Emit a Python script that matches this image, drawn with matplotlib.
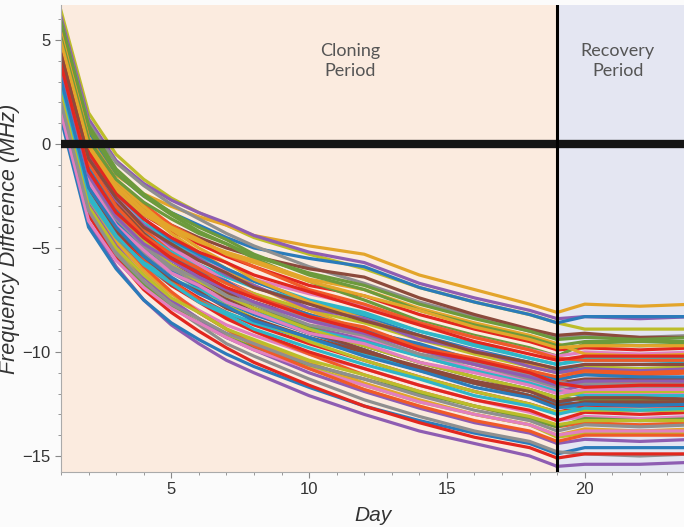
import matplotlib
matplotlib.use("Agg")
import matplotlib.pyplot as plt
from matplotlib.ticker import MultipleLocator

# days sampled for each trace
clone_days = [1, 2, 3, 4, 5, 6, 7, 8, 10, 12, 14, 16, 18, 19]
recovery_days = [19, 20, 22, 24]

# frequency difference (MHz), cloning part
batch_1_clone = [
    [6.4, 1.5, -0.5, -1.7, -2.6, -3.3, -3.9, -4.5, -5.3, -6.0, -6.9, -7.6, -8.2, -8.6],
    [5.3, 0.3, -1.5, -2.4, -3.0, -3.5, -3.9, -4.4, -4.9, -5.3, -6.3, -7.0, -7.7, -8.1],
    [6.1, 1.2, -0.8, -1.9, -2.7, -3.3, -3.8, -4.4, -5.2, -5.7, -6.7, -7.4, -8.0, -8.4],
    [5.6, 0.6, -1.4, -2.5, -3.3, -3.9, -4.5, -5.0, -5.5, -5.9, -6.9, -7.6, -8.2, -8.6],
    [5.9, 1.0, -0.9, -2.0, -2.9, -3.6, -4.3, -4.9, -5.9, -6.7, -7.6, -8.3, -9.0, -9.3],
    [5.0, 0.0, -1.9, -3.1, -3.9, -4.5, -5.0, -5.4, -6.0, -6.4, -7.4, -8.2, -8.9, -9.2],
    [4.8, -0.2, -2.2, -3.4, -4.2, -4.8, -5.4, -5.9, -6.8, -7.3, -8.2, -8.9, -9.5, -9.9],
    [5.6, 0.7, -1.4, -2.5, -3.4, -4.2, -4.8, -5.5, -6.6, -7.5, -8.5, -9.2, -9.8, -10.2],
    [4.5, -0.5, -2.5, -3.8, -4.7, -5.4, -6.0, -6.6, -7.5, -8.1, -9.0, -9.6, -10.3, -10.6],
    [4.0, -1.1, -3.0, -4.2, -5.1, -5.6, -6.1, -6.5, -7.2, -7.8, -8.6, -9.3, -9.9, -10.2],
    [4.2, -0.8, -2.8, -4.1, -5.1, -5.9, -6.6, -7.2, -8.2, -8.9, -9.7, -10.4, -11.0, -11.4],
    [3.7, -1.4, -3.4, -4.6, -5.5, -6.1, -6.7, -7.2, -8.0, -8.6, -9.4, -10.1, -10.7, -11.0],
    [5.0, 0.0, -2.0, -3.2, -4.3, -5.2, -6.0, -6.8, -8.0, -9.0, -9.9, -10.6, -11.3, -11.7],
    [3.4, -1.7, -3.7, -5.0, -6.0, -6.7, -7.3, -7.9, -8.8, -9.4, -10.2, -10.9, -11.5, -11.9],
    [4.8, -0.2, -2.3, -3.6, -4.6, -5.3, -6.0, -6.6, -7.6, -8.3, -9.2, -9.9, -10.5, -10.9],
]
batch_2_clone = [
    [3.2, -2.0, -4.0, -5.3, -6.2, -6.9, -7.5, -8.1, -9.0, -9.7, -10.5, -11.2, -11.8, -12.2],
    [3.7, -1.4, -3.4, -4.8, -5.8, -6.6, -7.4, -8.1, -9.1, -9.9, -10.8, -11.5, -12.1, -12.5],
    [2.9, -2.3, -4.3, -5.6, -6.6, -7.4, -8.1, -8.7, -9.6, -10.4, -11.2, -11.9, -12.5, -12.9],
    [4.2, -0.8, -2.9, -4.3, -5.3, -6.2, -7.0, -7.7, -8.8, -9.7, -10.5, -11.2, -11.8, -12.2],
    [2.6, -2.6, -4.6, -5.8, -6.8, -7.5, -8.1, -8.6, -9.4, -10.1, -10.9, -11.5, -12.1, -12.6],
    [2.4, -2.9, -4.9, -6.2, -7.2, -8.0, -8.7, -9.2, -10.1, -10.8, -11.6, -12.3, -12.9, -13.3],
    [3.2, -2.0, -4.1, -5.5, -6.6, -7.5, -8.3, -9.0, -10.1, -11.1, -11.9, -12.6, -13.2, -13.6],
    [2.1, -3.1, -5.1, -6.6, -7.6, -8.4, -9.2, -9.8, -10.7, -11.6, -12.4, -13.0, -13.5, -14.1],
    [2.6, -2.6, -4.7, -6.1, -7.2, -8.1, -8.9, -9.5, -10.5, -11.5, -12.3, -13.0, -13.5, -14.0],
    [1.5, -3.8, -5.9, -7.5, -8.7, -9.6, -10.4, -11.0, -12.1, -13.0, -13.8, -14.4, -15.0, -15.5],
    [1.2, -4.0, -6.0, -7.5, -8.6, -9.4, -10.1, -10.7, -11.7, -12.6, -13.3, -13.9, -14.4, -14.9],
    [2.1, -3.1, -5.2, -6.7, -7.8, -8.7, -9.6, -10.2, -11.3, -12.3, -13.1, -13.8, -14.3, -14.8],
    [3.4, -1.7, -3.6, -4.9, -5.8, -6.5, -7.1, -7.6, -8.4, -9.0, -9.8, -10.5, -11.1, -11.5],
    [2.9, -2.3, -4.3, -5.7, -6.8, -7.6, -8.4, -9.0, -10.0, -10.8, -11.6, -12.3, -12.8, -13.3],
    [1.8, -3.4, -5.4, -6.8, -7.8, -8.6, -9.3, -9.8, -10.6, -11.3, -12.0, -12.6, -13.2, -13.6],
    [4.0, -1.1, -3.1, -4.3, -5.2, -5.8, -6.4, -6.9, -7.6, -8.2, -9.0, -9.7, -10.3, -10.6],
]
batch_3_clone = [
    [4.5, -0.5, -2.6, -3.9, -5.0, -5.8, -6.6, -7.3, -8.5, -9.3, -10.1, -10.8, -11.4, -11.8],
    [5.3, 0.3, -1.8, -2.9, -3.9, -4.6, -5.3, -5.9, -7.0, -7.7, -8.6, -9.3, -9.9, -10.3],
    [3.7, -1.4, -3.5, -4.9, -6.0, -6.9, -7.7, -8.4, -9.5, -10.4, -11.2, -11.9, -12.5, -12.9],
    [4.8, -0.2, -2.2, -3.4, -4.1, -4.7, -5.2, -5.6, -6.5, -7.0, -7.9, -8.6, -9.2, -9.6],
    [2.4, -2.9, -4.9, -6.4, -7.5, -8.4, -9.3, -9.9, -11.0, -11.9, -12.7, -13.4, -13.9, -14.4],
    [3.4, -1.7, -3.7, -5.1, -6.1, -6.9, -7.6, -8.2, -9.1, -9.9, -10.8, -11.5, -12.1, -12.4],
    [3.2, -2.0, -4.0, -5.2, -6.0, -6.6, -7.2, -7.7, -8.4, -9.0, -9.8, -10.5, -11.1, -11.4],
    [4.2, -0.8, -2.9, -4.3, -5.4, -6.3, -7.1, -7.9, -9.0, -9.9, -10.8, -11.5, -12.1, -12.6],
    [1.8, -3.4, -5.5, -7.0, -8.1, -9.0, -9.8, -10.5, -11.6, -12.6, -13.4, -14.1, -14.6, -15.1],
    [5.9, 0.9, -1.2, -2.4, -3.3, -4.0, -4.6, -5.3, -6.3, -7.0, -8.0, -8.7, -9.3, -9.7],
    [2.6, -2.6, -4.5, -5.7, -6.5, -7.0, -7.6, -8.1, -8.9, -9.5, -10.2, -10.9, -11.5, -11.9],
    [1.5, -3.7, -5.6, -6.9, -7.9, -8.6, -9.3, -9.9, -10.8, -11.6, -12.4, -13.0, -13.5, -14.0],
    [2.9, -2.3, -4.4, -5.9, -7.1, -8.1, -8.9, -9.7, -10.8, -11.8, -12.6, -13.3, -13.8, -14.3],
    [3.7, -1.4, -3.4, -4.7, -5.8, -6.6, -7.3, -7.9, -8.9, -9.7, -10.5, -11.2, -11.8, -12.2],
    [5.3, 0.3, -1.8, -3.0, -4.1, -5.0, -5.7, -6.5, -7.6, -8.4, -9.3, -10.0, -10.6, -11.0],
]
batch_4_clone = [
    [4.4, -0.6, -2.7, -3.9, -4.9, -5.5, -6.3, -6.8, -7.9, -8.4, -9.4, -9.9, -10.7, -11.0],
    [3.9, -1.2, -3.2, -4.5, -5.3, -6.1, -6.6, -7.4, -8.2, -9.0, -9.6, -10.4, -10.9, -11.3],
    [3.5, -1.6, -3.6, -4.9, -5.9, -6.5, -7.3, -7.7, -8.7, -9.2, -10.1, -10.6, -11.3, -11.7],
    [3.0, -2.1, -4.2, -5.4, -6.5, -7.1, -7.9, -8.4, -9.3, -10.0, -10.7, -11.4, -11.9, -12.4],
    [4.6, -0.4, -2.4, -3.6, -4.5, -5.2, -5.7, -6.3, -7.1, -7.9, -8.7, -9.5, -10.1, -10.4],
    [5.1, 0.2, -1.7, -2.8, -3.6, -4.3, -4.8, -5.4, -6.2, -6.8, -7.7, -8.4, -9.0, -9.4],
    [2.8, -2.4, -4.4, -5.8, -6.7, -7.6, -8.2, -8.9, -9.8, -10.6, -11.3, -12.1, -12.6, -13.0],
    [3.3, -1.8, -3.9, -5.1, -6.2, -6.8, -7.6, -8.1, -9.1, -9.6, -10.5, -11.0, -11.6, -12.0],
    [4.1, -0.9, -3.0, -4.4, -5.3, -6.0, -6.7, -7.3, -8.3, -8.8, -9.8, -10.3, -10.9, -11.2],
    [2.3, -3.0, -5.0, -6.3, -7.4, -8.1, -8.9, -9.4, -10.4, -11.1, -11.9, -12.6, -13.1, -13.5],
    [4.9, -0.1, -2.0, -3.2, -4.0, -4.6, -5.3, -5.7, -6.6, -7.3, -8.0, -8.8, -9.4, -9.8],
    [3.6, -1.5, -3.5, -4.8, -5.6, -6.4, -7.0, -7.6, -8.5, -9.1, -9.9, -10.6, -11.2, -11.6],
    [3.1, -2.1, -4.0, -5.4, -6.4, -7.2, -7.8, -8.5, -9.3, -10.2, -10.9, -11.7, -12.2, -12.7],
    [2.0, -3.2, -5.3, -6.6, -7.7, -8.4, -9.1, -9.6, -10.6, -11.3, -12.1, -12.8, -13.3, -13.8],
    [4.3, -0.7, -2.6, -4.0, -4.8, -5.6, -6.2, -6.9, -7.7, -8.5, -9.2, -10.0, -10.5, -10.8],
    [3.8, -1.3, -3.3, -4.5, -5.5, -6.2, -6.9, -7.4, -8.3, -9.0, -9.9, -10.4, -11.0, -11.5],
]

# recovery part, same traces in the same order
batch_1_recovery = [
    [-8.6, -8.9, -8.9, -8.9], [-8.1, -7.7, -7.8, -7.7], [-8.4, -8.3, -8.4, -8.3],
    [-8.6, -8.3, -8.3, -8.3], [-9.3, -9.2, -9.3, -9.2], [-9.2, -9.1, -9.3, -9.3],
    [-9.9, -9.8, -9.9, -9.8], [-10.2, -9.6, -9.7, -9.6], [-10.6, -10.4, -10.4, -10.5],
    [-10.2, -10.0, -10.1, -10.0], [-11.4, -11.0, -11.1, -11.0], [-11.0, -10.7, -10.8, -10.7],
    [-11.7, -11.4, -11.5, -11.4], [-11.9, -11.6, -11.6, -11.6], [-10.9, -10.6, -10.6, -10.6],
]
batch_2_recovery = [
    [-12.2, -11.9, -12.0, -11.9], [-12.5, -12.1, -12.2, -12.1], [-12.9, -12.6, -12.6, -12.6],
    [-12.2, -12.3, -12.3, -12.3], [-12.6, -12.8, -12.8, -12.8], [-13.3, -13.1, -13.2, -13.1],
    [-13.6, -13.4, -13.5, -13.4], [-14.1, -13.9, -13.9, -13.9], [-14.0, -13.7, -13.8, -13.7],
    [-15.5, -15.4, -15.4, -15.3], [-14.9, -14.6, -14.6, -14.6], [-14.8, -14.9, -15.0, -14.9],
    [-11.5, -11.3, -11.3, -11.3], [-13.3, -12.9, -13.0, -12.9], [-13.6, -13.2, -13.3, -13.2],
    [-10.6, -10.3, -10.3, -10.3],
]
batch_3_recovery = [
    [-11.8, -12.0, -12.0, -12.0], [-10.3, -10.4, -10.4, -10.4], [-12.9, -12.8, -12.8, -12.8],
    [-9.6, -10.1, -10.2, -10.1], [-14.4, -14.2, -14.3, -14.2], [-12.4, -12.5, -12.5, -12.5],
    [-11.4, -11.7, -11.7, -11.7], [-12.6, -12.4, -12.4, -12.4], [-15.1, -14.9, -14.9, -14.9],
    [-9.7, -9.5, -9.5, -9.5], [-11.9, -12.1, -12.1, -12.1], [-14.0, -13.8, -13.8, -13.8],
    [-14.3, -14.0, -14.0, -14.0], [-12.2, -11.9, -11.9, -11.9], [-11.0, -10.9, -10.9, -10.9],
]
batch_4_recovery = [
    [-11.0, -10.8, -10.9, -10.8], [-11.3, -11.1, -11.2, -11.2], [-11.7, -11.5, -11.6, -11.5],
    [-12.4, -12.2, -12.2, -12.3], [-10.4, -10.2, -10.2, -10.2], [-9.4, -9.3, -9.4, -9.3],
    [-13.0, -12.7, -12.8, -12.7], [-12.0, -11.8, -11.8, -11.8], [-11.2, -10.9, -11.0, -10.9],
    [-13.5, -13.3, -13.3, -13.3], [-9.8, -9.7, -9.7, -9.7], [-11.6, -11.4, -11.4, -11.4],
    [-12.7, -12.5, -12.6, -12.5], [-13.8, -13.5, -13.6, -13.5], [-10.8, -10.6, -10.6, -10.6],
    [-11.5, -11.7, -11.6, -11.6],
]

palette = ['#bcbd2a', '#e3a52b', '#8e5db2', '#2b7bba', '#8f8f8f', '#8c4a3c',
           '#e2271f', '#6c9a3c', '#2fb6c8', '#e27fbf', '#f05a28']

clone_all = batch_1_clone + batch_2_clone + batch_3_clone + batch_4_clone
recovery_all = batch_1_recovery + batch_2_recovery + batch_3_recovery + batch_4_recovery

fig = plt.figure(figsize=(6.84, 5.27), dpi=100, facecolor='#fbfbfb')
ax = fig.add_axes([0.0892, 0.1044, 0.9108, 0.886])

split_day = 19
ax.axvspan(0, split_day, color='#fbebdf', zorder=0)
ax.axvspan(split_day, 30, color='#e4e6f2', zorder=0)

for i, (c, r) in enumerate(zip(clone_all, recovery_all)):
    col = palette[i % len(palette)]
    ax.plot(clone_days, c, color=col, lw=2.3, zorder=2)
    ax.plot(recovery_days, r, color=col, lw=2.3, zorder=2)

ax.axhline(0, color='#141414', lw=6, zorder=4)
ax.axvline(split_day, color='black', lw=2.2, zorder=4)

ax.text(11.5, 4.0, 'Cloning\nPeriod', ha='center', va='center', fontsize=13,
        color='#555555', family='Lato', linespacing=1.3)
ax.text(21.2, 4.0, 'Recovery\nPeriod', ha='center', va='center', fontsize=13,
        color='#555555', family='Lato', linespacing=1.3)

ax.set_xlim(1, 23.6)
ax.set_ylim(-15.77, 6.68)
ax.xaxis.set_major_locator(MultipleLocator(5))
ax.xaxis.set_minor_locator(MultipleLocator(1))
ax.yaxis.set_major_locator(MultipleLocator(5))
ax.yaxis.set_minor_locator(MultipleLocator(1))
ax.tick_params(which='both', colors='#888888', labelcolor='#333333', labelsize=12)
ax.tick_params(which='major', length=4)
ax.tick_params(which='minor', length=2.5)
for lab in ax.get_xticklabels() + ax.get_yticklabels():
    lab.set_family('Liberation Sans')

for s in ['top', 'right']:
    ax.spines[s].set_visible(False)
for s in ['left', 'bottom']:
    ax.spines[s].set_color('#aaaaaa')
    ax.spines[s].set_linewidth(0.8)

ax.set_xlabel('Day', fontsize=15, style='italic', family='Liberation Sans',
              color='#333333', labelpad=6)
ax.set_ylabel('Frequency Difference (MHz)', fontsize=15.5, style='italic',
              family='Liberation Sans', color='#333333', labelpad=2)

fig.savefig('out.png', dpi=100, facecolor=fig.get_facecolor())
